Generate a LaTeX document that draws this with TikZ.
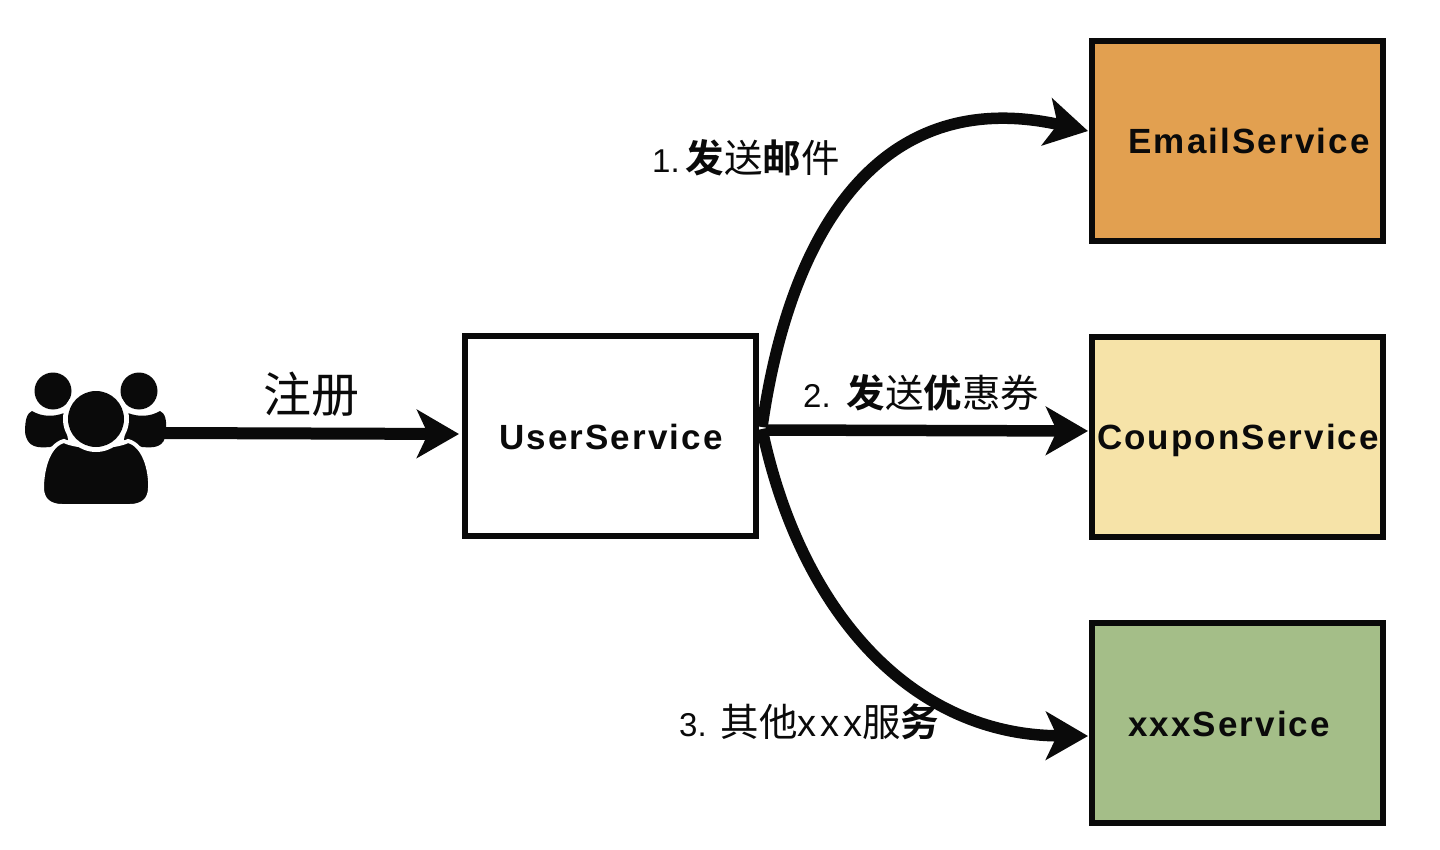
\documentclass[tikz,border=0pt]{standalone}
\usepackage{fontspec}
\setmainfont{Liberation Sans}
\newfontfamily\cjk{Noto Sans CJK SC}
\newfontfamily\cjkb{Noto Sans CJK SC Bold}
\newfontfamily\svc[LetterSpace=6]{Liberation Sans Bold}
\newfontfamily\numf{Liberation Sans}
\newfontfamily\xsp[LetterSpace=10]{Liberation Sans}
\usetikzlibrary{arrows.meta,calc}
\definecolor{inkk}{HTML}{0A0A0A}
\definecolor{orangeb}{HTML}{E2A050}
\definecolor{yellowb}{HTML}{F6E3A8}
\definecolor{greenb}{HTML}{A4BE88}
\tikzset{
  px/.style={x=1pt,y=-1pt},
  svcbox/.style={draw=inkk,line width=6pt,minimum width=291pt,minimum height=200pt,inner sep=0pt,anchor=north west},
  svctext/.style={font=\svc\fontsize{35}{40}\selectfont,text=inkk,inner sep=0pt,anchor=base},
  lab/.style={font=\fontsize{38.5}{42}\selectfont,text=inkk,inner sep=0pt,anchor=base west},
  flow/.style={draw=inkk,line width=12pt,-{Stealth[length=42pt,width=48pt,inset=11pt]}},
  flowb/.style={draw=inkk,line width=11.5pt,-{Stealth[length=42pt,width=48pt,inset=11pt]}},
}
\newcommand{\numlab}[2]{{\numf\fontsize{33}{36}\selectfont #1.}\hspace{#2pt}}
\begin{document}
\begin{tikzpicture}[px]
\useasboundingbox (0,0) rectangle (1440,850);
\fill[white] (0,0) rectangle (1440,850);
\node[svcbox,fill=white] (user) at (462,333) {};
\node[svcbox,fill=orangeb] (email) at (1089,38) {};
\node[svcbox,fill=yellowb] (coupon) at (1089,334) {};
\node[svcbox,fill=greenb] (xxx) at (1089,620) {};
\node[svctext] (usert) at (611,449) {UserService};
\node[svctext] (emailt) at (1249,154) {EmailService};
\node[svctext] (coupont) at (1238,449) {CouponService};
\node[svctext] (xxxt) at (1229,736) {xxxService};
% people icon
\fill[inkk] (53,391) circle (18.5);
\fill[inkk] (139,391) circle (18.5);
\fill[inkk] (32,411) .. controls (42,417) and (54,417) .. (64,413) -- (68,440) -- (50,447)
  .. controls (38,448) and (27,448) .. (25,432) .. controls (25,420) and (27,413) .. (32,411) -- cycle;
\fill[inkk] (160,411) .. controls (150,417) and (138,417) .. (128,413) -- (124,440) -- (142,447)
  .. controls (154,448) and (165,448) .. (166,432) .. controls (167,420) and (165,413) .. (160,411) -- cycle;
\filldraw[fill=inkk,draw=white,line width=4pt] (64,441) .. controls (78,448) and (114,448) .. (128,441)
  .. controls (144,445) and (151,470) .. (150,488) .. controls (150,500) and (142,506) .. (130,506)
  -- (62,506) .. controls (50,506) and (42,500) .. (42,488) .. controls (42,470) and (48,445) .. (64,441) -- cycle;
\fill[white] (96,419) circle (33);
\fill[inkk] (96,419) circle (28);
\coordinate (people) at (164,433);
% connectors
\draw[flow] (people) -- ($(user.west)+(-3,-2)$);
\draw[flowb] ($(user.east)+(3,-9)$) .. controls (790,230) and (880,85) .. ($(email.west)+(-1,-10)$);
\draw[flowb] ($(user.east)+(7,-6)$) -- ($(coupon.west)+(-1,-6)$);
\draw[flowb] ($(user.east)+(3,-7)$) .. controls (800,610) and (910,735) .. ($(xxx.west)+(-1,13)$);
% labels
\node[font=\cjk\fontsize{48}{50}\selectfont,text=inkk,inner sep=0pt] (reg) at (311,394) {注册};
\node[lab] (l1) at (652,173) {\numlab{1}{6}{\cjkb 发}{\cjk 送}{\cjkb 邮}{\cjk 件}};
\node[lab] (l2) at (803,407) {\numlab{2}{16}{\cjkb 发}{\cjk 送}{\cjkb 优}{\cjk 惠券}};
\node[lab] (l3) at (679,736) {\numlab{3}{14}{\cjk 其他}{\xsp\fontsize{38}{40}\selectfont xxx}{\cjk 服}{\cjkb 务}};
\end{tikzpicture}
\end{document}
